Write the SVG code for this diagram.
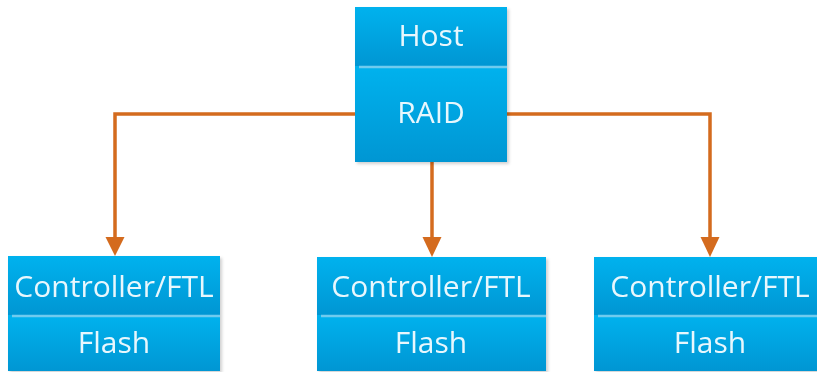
<svg xmlns="http://www.w3.org/2000/svg" width="817" height="372" viewBox="0 0 817 372">
<style>
.cell{fill:url(#g);}
.div{stroke:#6fcbee;stroke-width:2.5;}
.lbl{font-family:"Open Sans","Liberation Sans",sans-serif;font-size:30px;fill:#e8f7fd;text-anchor:middle;}
.conn{fill:none;stroke:#d46b1e;stroke-width:3.5;stroke-linejoin:miter;}
</style>
<defs>
<linearGradient id="g" x1="0" y1="0" x2="0" y2="1">
<stop offset="0" stop-color="#00b2ee"/>
<stop offset="1" stop-color="#0096d3"/>
</linearGradient>
<filter id="sh" x="-5%" y="-5%" width="115%" height="115%">
<feDropShadow dx="2" dy="2" stdDeviation="1.5" flood-color="#000" flood-opacity="0.18"/>
</filter>
</defs>
<g id="connectors">
<path class="conn" d="M355,114 H115 V240"/>
<path d="M105.5,237 L124.5,237 L115,256 z" fill="#d46b1e"/>
<path class="conn" d="M432,162 V240"/>
<path d="M422.5,237 L441.5,237 L432,257 z" fill="#d46b1e"/>
<path class="conn" d="M507,114 H710 V240"/>
<path d="M700.5,237 L719.5,237 L710,257 z" fill="#d46b1e"/>
</g>
<g id="host" filter="url(#sh)">
<rect class="cell" x="355" y="7" width="152" height="59"/>
<rect class="cell" x="355" y="66" width="152" height="96"/>
<line class="div" x1="359" y1="67" x2="507" y2="67"/>
<text class="lbl" x="431" y="46">Host</text>
<text class="lbl" x="431" y="123">RAID</text>
</g>
<g id="ssd1" filter="url(#sh)">
<rect class="cell" x="8" y="256" width="212" height="59"/>
<rect class="cell" x="8" y="315" width="212" height="56"/>
<line class="div" x1="12" y1="316" x2="220" y2="316"/>
<text class="lbl" x="114" y="297">Controller/FTL</text>
<text class="lbl" x="114" y="353">Flash</text>
</g>
<g id="ssd2" filter="url(#sh)">
<rect class="cell" x="317" y="257" width="229" height="58"/>
<rect class="cell" x="317" y="315" width="229" height="56"/>
<line class="div" x1="321" y1="316" x2="546" y2="316"/>
<text class="lbl" x="431" y="297">Controller/FTL</text>
<text class="lbl" x="431" y="353">Flash</text>
</g>
<g id="ssd3" filter="url(#sh)">
<rect class="cell" x="594" y="257" width="230" height="58"/>
<rect class="cell" x="594" y="315" width="230" height="56"/>
<line class="div" x1="598" y1="316" x2="824" y2="316"/>
<text class="lbl" x="710" y="297">Controller/FTL</text>
<text class="lbl" x="710" y="353">Flash</text>
</g>
</svg>
